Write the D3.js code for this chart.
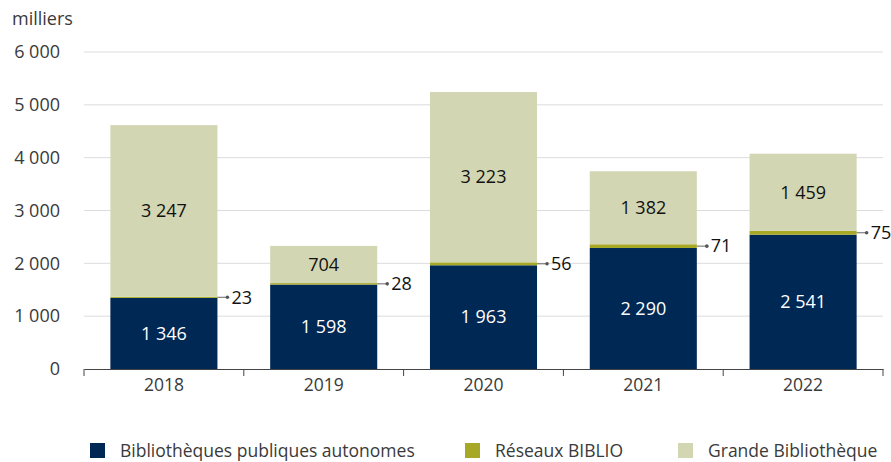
<!DOCTYPE html>
<html>
<head>
<meta charset="utf-8">
<script src="https://cdn.jsdelivr.net/npm/d3@7"></script>
<style>
  body { margin: 0; background: #fff; }
  text { font-family: "Open Sans", sans-serif; font-weight: 400; }
</style>
</head>
<body>
<div id="chart"></div>
<script>
var years = ['2018', '2019', '2020', '2021', '2022']
var autonomes = [1346, 1598, 1963, 2290, 2541]
var biblio = [23, 28, 56, 71, 75]
var grande = [3247, 704, 3223, 1382, 1459]
var yTicks = [0, 1000, 2000, 3000, 4000, 5000, 6000]
var seriesNames = ['Bibliothèques publiques autonomes', 'Réseaux BIBLIO', 'Grande Bibliothèque']

var colors = ['#002855', '#a8a827', '#d3d6b2']
var W = 891, H = 462
var mLeft = 84, mRight = 883, mTop = 52, mBottom = 369
var fs = 18

var fmt = function (v) { return d3.format(',')(v).replace(/,/g, ' ') }

var rows = years.map(function (y, i) {
  return { year: y, autonomes: autonomes[i], biblio: biblio[i], grande: grande[i] }
})
var stack = d3.stack().keys(['autonomes', 'biblio', 'grande'])(rows)

var svg = d3.select('#chart').append('svg')
  .attr('width', W).attr('height', H)

var x = d3.scaleBand().domain(years).range([mLeft, mRight])
  .paddingInner(0.33).paddingOuter(0.165)
var y = d3.scaleLinear().domain([0, 6000]).range([mBottom, mTop])

// gridlines
svg.append('g').selectAll('line').data(yTicks.filter(function (d) { return d > 0 }))
  .join('line')
  .attr('x1', mLeft).attr('x2', mRight)
  .attr('y1', function (d) { return y(d) }).attr('y2', function (d) { return y(d) })
  .attr('stroke', '#dcdcdc').attr('stroke-width', 1)

// y labels
svg.append('g').selectAll('text').data(yTicks)
  .join('text')
  .attr('x', 60).attr('y', function (d) { return y(d) })
  .attr('dy', '0.35em')
  .attr('text-anchor', 'end')
  .attr('font-size', fs).attr('fill', '#3a3a3a')
  .text(fmt)

svg.append('text').attr('x', 12).attr('y', 25)
  .attr('font-size', fs).attr('fill', '#3a3a3a').text('milliers')

// bars
svg.append('g').selectAll('g').data(stack).join('g')
  .attr('fill', function (d, i) { return colors[i] })
  .selectAll('rect').data(function (d) { return d }).join('rect')
  .attr('x', function (d) { return x(d.data.year) })
  .attr('width', x.bandwidth())
  .attr('y', function (d) { return y(d[1]) })
  .attr('height', function (d) { return y(d[0]) - y(d[1]) })

// x axis
var xAxis = d3.axisBottom(x).tickSize(0).tickPadding(10)
var ax = svg.append('g').attr('transform', 'translate(0,' + mBottom + ')').call(xAxis)
ax.select('.domain').attr('stroke', '#444')
ax.selectAll('text').attr('font-size', 17.5).attr('fill', '#3a3a3a')
  .style('font-family', '"Open Sans", sans-serif')
var bounds = years.map(function (d) { return x(d) - x.step() * x.paddingInner() / 2 })
bounds.push(mRight)
ax.selectAll('.sep').data(bounds).join('line').attr('class', 'sep')
  .attr('x1', function (d) { return d }).attr('x2', function (d) { return d })
  .attr('y1', 0).attr('y2', 7).attr('stroke', '#444')

// value labels
var labels = svg.append('g')
stack[0].forEach(function (d) {
  labels.append('text')
    .attr('x', x(d.data.year) + x.bandwidth() / 2)
    .attr('y', y((d[0] + d[1]) / 2)).attr('dy', '0.35em')
    .attr('text-anchor', 'middle').attr('font-size', fs).attr('fill', '#fff')
    .text(fmt(d.data.autonomes))
})
stack[2].forEach(function (d) {
  labels.append('text')
    .attr('x', x(d.data.year) + x.bandwidth() / 2)
    .attr('y', y((d[0] + d[1]) / 2)).attr('dy', '0.35em')
    .attr('text-anchor', 'middle').attr('font-size', fs).attr('fill', '#111')
    .text(fmt(d.data.grande))
})
stack[1].forEach(function (d) {
  var x0 = x(d.data.year) + x.bandwidth()
  var yy = y((d[0] + d[1]) / 2)
  labels.append('line')
    .attr('x1', x0).attr('x2', x0 + 10).attr('y1', yy).attr('y2', yy)
    .attr('stroke', '#666').attr('stroke-width', 1)
  labels.append('circle').attr('cx', x0 + 10).attr('cy', yy).attr('r', 1.8).attr('fill', '#555')
  labels.append('text')
    .attr('x', x0 + 14).attr('y', yy).attr('dy', '0.35em')
    .attr('font-size', fs).attr('fill', '#111')
    .text(fmt(d.data.biblio))
})

// legend
var legX = [90, 465, 678]
var leg = svg.append('g').selectAll('g').data(seriesNames).join('g')
  .attr('transform', function (d, i) { return 'translate(' + legX[i] + ',443)' })
leg.append('rect').attr('width', 15).attr('height', 15)
  .attr('fill', function (d, i) { return colors[i] })
leg.append('text').attr('x', 30).attr('y', 8).attr('dy', '0.35em')
  .attr('font-size', 17.5).attr('fill', '#3a3a3a')
  .text(function (d) { return d })
</script>
</body>
</html>
